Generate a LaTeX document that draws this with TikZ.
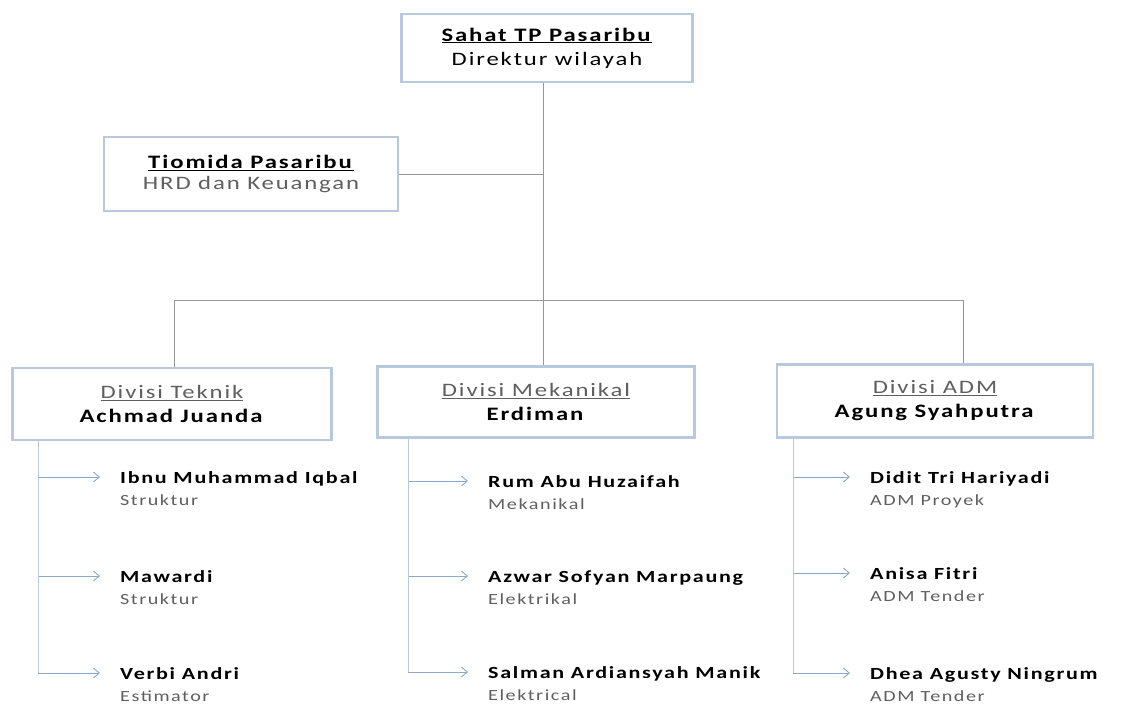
\documentclass[tikz,border=0pt]{standalone}
\usepackage{fontspec}
\setmainfont{Carlito}[FakeStretch=1.3,LetterSpace=10]
\definecolor{boxblue}{RGB}{184, 200, 222}
\definecolor{linegray}{RGB}{150, 150, 150}
\definecolor{arrowblue}{RGB}{140, 168, 200}
\definecolor{rolegray}{RGB}{95, 95, 95}
\usetikzlibrary{
  arrows.meta,
  calc,
  positioning,
}
\tikzset{
  >={Straight Barb[length=6pt, width=10pt]},
  orgbox/.style={draw=boxblue, line width=2.5pt, fill=white, align=center,
    font=\fontsize{19}{24}\selectfont, inner sep=0pt},
  link/.style={draw=linegray, line width=0.8pt},
  report/.style={draw=arrowblue, line width=0.9pt, ->, shorten >=20pt},
  member/.style={anchor=north west, align=left, inner sep=0pt,
    font=\fontsize{17}{22}\selectfont},
}
\newcommand{\rolename}[1]{{\color{rolegray}\fontsize{15.5}{22}\selectfont #1}}

\begin{document}
\begin{tikzpicture}[x=1pt, y=-1pt]
  \useasboundingbox (0,0) rectangle (1131,707);
  % management
  \node [orgbox, minimum width=291pt, minimum height=68pt] at (547,48)
        (direktur) {\underline{\textbf{Sahat TP Pasaribu}}\\Direktur wilayah};
  \node [orgbox, minimum width=294pt, minimum height=74pt,
         font=\fontsize{19}{21}\selectfont] at (251,174)
        (hrd) {\underline{\textbf{Tiomida Pasaribu}}\\{\color{rolegray}HRD dan Keuangan}};
  % divisions
  \node [orgbox, minimum width=319pt, minimum height=72pt] at (172,404)
        (teknik) {{\color{rolegray}\underline{Divisi Teknik}}\\\textbf{Achmad Juanda}};
  \node [orgbox, minimum width=317pt, minimum height=71pt] at (536,402)
        (mekanikal) {{\color{rolegray}\underline{Divisi Mekanikal}}\\\textbf{Erdiman}};
  \node [orgbox, minimum width=316pt, minimum height=73pt] at (935,401)
        (adm) {{\color{rolegray}\underline{Divisi ADM}}\\\textbf{Agung Syahputra}};
  \coordinate (spine) at (543,300);
  \coordinate (busL) at (174,300);
  \coordinate (busR) at (963,300);
  \draw [link] (spine |- direktur.south) -- (spine |- mekanikal.north);
  \draw [link] (hrd.east) -- (hrd.east -| spine);
  \draw [link] (busL |- teknik.north) -- (busL) -- (busR) -- (busR |- adm.north);
  % staff
  \node [member] at (120,471) (iqbal) {\textbf{Ibnu Muhammad Iqbal}\\\rolename{Struktur}};
  \node [member] at (120,570) (mawardi) {\textbf{Mawardi}\\\rolename{Struktur}};
  \node [member] at (120,667) (verbi) {\textbf{Verbi Andri}\\\rolename{Estimator}};
  \node [member] at (488,475) (rum) {\textbf{Rum Abu Huzaifah}\\\rolename{Mekanikal}};
  \node [member] at (488,570) (azwar) {\textbf{Azwar Sofyan Marpaung}\\\rolename{Elektrikal}};
  \node [member] at (488,666) (salman) {\textbf{Salman Ardiansyah Manik}\\\rolename{Elektrical}};
  \node [member] at (870,471) (didit) {\textbf{Didit Tri Hariyadi}\\\rolename{ADM Proyek}};
  \node [member] at (870,567) (anisa) {\textbf{Anisa Fitri}\\\rolename{ADM Tender}};
  \node [member] at (870,667) (dhea) {\textbf{Dhea Agusty Ningrum}\\\rolename{ADM Tender}};
  \coordinate (tekline) at (38,440);
  \coordinate (mekline) at (408,440);
  \coordinate (admline) at (793,440);
  \foreach \who/\line in {iqbal/tekline, mawardi/tekline, verbi/tekline,
      rum/mekline, azwar/mekline, salman/mekline,
      didit/admline, anisa/admline, dhea/admline}
  {
    \path ([yshift=-6pt]\who.north west) coordinate (\who-pt);
    \draw [report] (\line |- \who-pt) -- (\who-pt);
  }
  \draw [link, draw=boxblue] (teknik.south -| tekline) -- (tekline |- verbi-pt);
  \draw [link, draw=boxblue] (mekanikal.south -| mekline) -- (mekline |- salman-pt);
  \draw [link, draw=boxblue] (adm.south -| admline) -- (admline |- dhea-pt);
\end{tikzpicture}
\end{document}
